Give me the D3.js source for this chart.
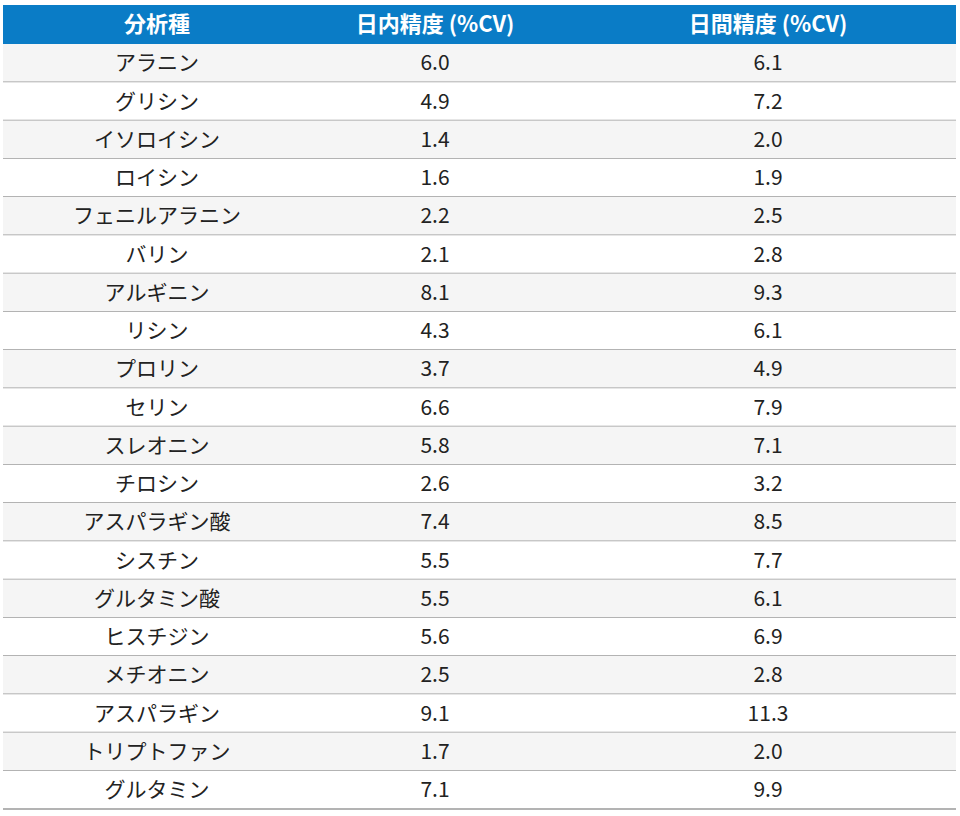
<!DOCTYPE html>
<html>
<head>
<meta charset="utf-8">
<script src="https://cdn.jsdelivr.net/npm/d3@7"></script>
<style>
body{margin:0;background:#fff;}
text{font-family:"Noto Sans CJK JP","Noto Sans",sans-serif;}
</style>
</head>
<body>
<svg id="chart" width="960" height="816"></svg>
<script>
const headers = ['分析種', '日内精度 (%CV)', '日間精度 (%CV)'];
const analytes = ['アラニン','グリシン','イソロイシン','ロイシン','フェニルアラニン','バリン','アルギニン','リシン','プロリン','セリン','スレオニン','チロシン','アスパラギン酸','シスチン','グルタミン酸','ヒスチジン','メチオニン','アスパラギン','トリプトファン','グルタミン'];
const intraday = [6.0,4.9,1.4,1.6,2.2,2.1,8.1,4.3,3.7,6.6,5.8,2.6,7.4,5.5,5.5,5.6,2.5,9.1,1.7,7.1];
const interday = [6.1,7.2,2.0,1.9,2.5,2.8,9.3,6.1,4.9,7.9,7.1,3.2,8.5,7.7,6.1,6.9,2.8,11.3,2.0,9.9];

const svg = d3.select('#chart');
const left = 3, right = 956, head_top = 5, head_bot = 44, bottom = 809;
const col_centers = [157, 435, 768];

const y = d3.scaleBand().domain(d3.range(analytes.length)).range([head_bot, bottom]);

svg.append('rect')
	.attr('x', left).attr('y', head_top)
	.attr('width', right-left).attr('height', head_bot-head_top)
	.attr('fill', '#0a7cc6');

svg.selectAll('.head').data(headers).enter()
	.append('text')
		.attr('class','head')
		.attr('x', (d,i) => col_centers[i])
		.attr('y', (head_top+head_bot)/2)
		.attr('dy','.35em')
		.attr('text-anchor','middle')
		.attr('fill','#fff')
		.attr('font-weight','bold')
		.attr('font-size','22px')
		.text(d => d);

const rows = svg.selectAll('.row')
		.data(analytes.map((a,i) => [a, intraday[i].toFixed(1), interday[i].toFixed(1)]))
		.enter()
	.append('g')
		.attr('class','row')
		.attr('transform', (d,i) => `translate(0,${y(i)})`);

rows.append('rect')
	.attr('x', left).attr('width', right-left)
	.attr('height', y.bandwidth())
	.attr('fill', (d,i) => i%2===0 ? '#f5f5f5' : '#fff');

rows.append('line')
	.attr('x1', left).attr('x2', right)
	.attr('y1', y.bandwidth()).attr('y2', y.bandwidth())
	.attr('stroke', '#9a9a9a').attr('stroke-width', 1.5);

rows.each(function(row){
	d3.select(this).selectAll('text')
			.data(row)
			.enter()
		.append('text')
			.attr('x', (d,i) => col_centers[i])
			.attr('y', y.bandwidth()/2)
			.attr('dy','.35em')
			.attr('text-anchor','middle')
			.attr('fill','#222')
			.attr('font-size','21px')
			.text(d => d);
});
</script>
</body>
</html>
